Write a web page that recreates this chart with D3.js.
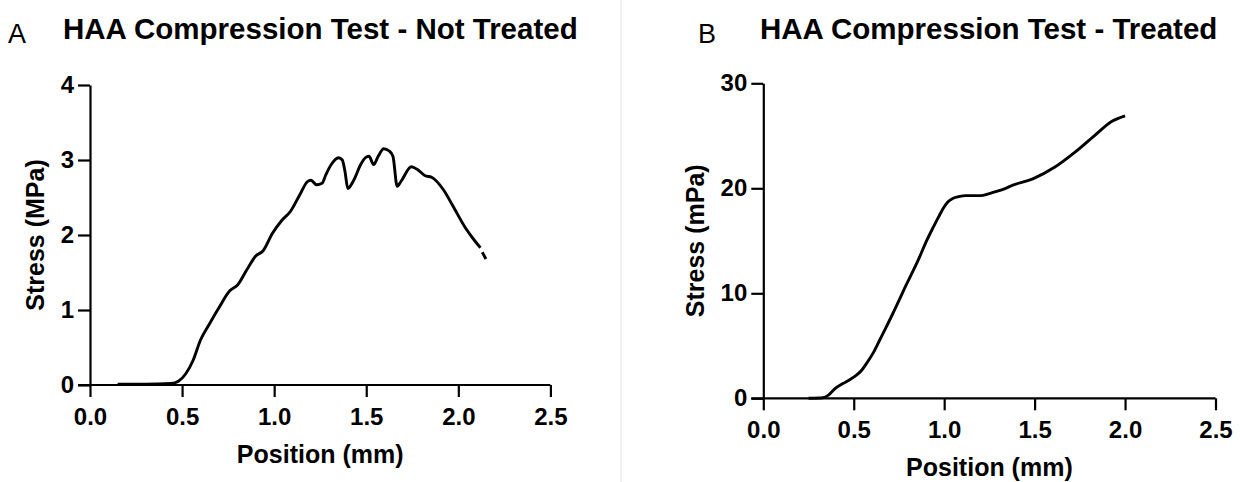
<!DOCTYPE html>
<html>
<head>
<meta charset="utf-8">
<script src="https://cdn.jsdelivr.net/npm/d3@7"></script>
<style>
  body { margin: 0; background: #ffffff; }
  svg text { font-family: "Liberation Sans", Arial, Helvetica, sans-serif; fill: #000; }
</style>
</head>
<body>
<div id="chart"></div>
<script>
// Panel A - not treated (position mm, stress MPa)
const untreatedPosition = [0.15, 0.30, 0.44, 0.48, 0.52, 0.56, 0.60, 0.65, 0.70, 0.76, 0.80, 0.85, 0.90, 0.94, 0.99, 1.04, 1.09, 1.14, 1.18, 1.20, 1.23, 1.26, 1.28, 1.31, 1.35, 1.37, 1.385, 1.40, 1.43, 1.47, 1.495, 1.515, 1.54, 1.565, 1.595, 1.625, 1.645, 1.668, 1.69, 1.745, 1.78, 1.82, 1.855, 1.92, 1.97, 2.04, 2.09, 2.12, null, 2.13, 2.15];
const untreatedStress = [0.01, 0.01, 0.02, 0.05, 0.15, 0.33, 0.60, 0.82, 1.03, 1.26, 1.33, 1.53, 1.72, 1.79, 2.02, 2.19, 2.32, 2.54, 2.71, 2.73, 2.67, 2.69, 2.80, 2.94, 3.03, 3.00, 2.84, 2.62, 2.72, 2.94, 3.03, 3.05, 2.94, 3.05, 3.15, 3.12, 3.05, 2.65, 2.72, 2.91, 2.87, 2.79, 2.77, 2.60, 2.39, 2.09, 1.92, 1.83, null, 1.77, 1.68];

// Panel B - treated (position mm, stress mPa)
const treatedPosition = [0.25, 0.33, 0.36, 0.395, 0.44, 0.48, 0.515, 0.545, 0.57, 0.61, 0.645, 0.68, 0.717, 0.755, 0.79, 0.83, 0.865, 0.90, 0.94, 0.97, 0.995, 1.02, 1.05, 1.08, 1.12, 1.20, 1.25, 1.29, 1.34, 1.38, 1.49, 1.61, 1.72, 1.83, 1.93, 2.0];
const treatedStress = [0, 0.05, 0.3, 0.9, 1.4, 1.8, 2.2, 2.7, 3.3, 4.4, 5.6, 6.8, 8.1, 9.5, 10.8, 12.2, 13.5, 14.9, 16.3, 17.3, 18.1, 18.7, 19.05, 19.2, 19.3, 19.3, 19.5, 19.7, 20.0, 20.3, 20.9, 22.0, 23.4, 25.0, 26.4, 26.9];

// Axis ticks
const positionTicks = [0, 0.5, 1.0, 1.5, 2.0, 2.5];
const untreatedStressTicks = [0, 1, 2, 3, 4];
const treatedStressTicks = [0, 10, 20, 30];

const svg_width = 1240;
const svg_height = 482;
const fontFamily = '"Liberation Sans", Arial, Helvetica, sans-serif';

const svg = d3
  .select("#chart")
  .append("svg")
  .attr("width", svg_width)
  .attr("height", svg_height);

// faint divider between the two panels
svg
  .append("line")
  .attr("x1", 621)
  .attr("x2", 621)
  .attr("y1", 0)
  .attr("y2", svg_height)
  .style("stroke", "#ececec")
  .style("stroke-width", 1.5);

function zip(xs, ys) {
  return xs.map(function(x, i) {
    return x === null ? null : [x, ys[i]];
  });
}

function styleAxis(sel) {
  sel.attr("font-family", fontFamily).attr("font-size", 24);
  sel.selectAll("text").style("font-weight", "bold").style("fill", "#000");
  sel.selectAll("line").style("stroke", "#000").style("stroke-width", 2.2);
  sel.selectAll(".domain").style("stroke", "#000").style("stroke-width", 2.2);
}

function drawPanel(opt) {
  var x = d3.scaleLinear().domain([0, 2.5]).range(opt.xRange);
  var y = d3.scaleLinear().domain(opt.yDomain).range(opt.yRange);

  var g = svg.append("g");

  // letter + title
  g.append("text")
    .attr("x", opt.letterX)
    .attr("y", 43)
    .style("font-size", "27px")
    .text(opt.letter);

  g.append("text")
    .attr("x", opt.titleX)
    .attr("y", 39)
    .style("font-size", "29.5px")
    .style("font-weight", "bold")
    .text(opt.title);

  // axes
  var xAxis = g
    .append("g")
    .attr("transform", "translate(0," + opt.yRange[0] + ")")
    .call(
      d3
        .axisBottom(x)
        .tickValues(positionTicks)
        .tickFormat(d3.format(".1f"))
        .tickSize(12)
        .tickSizeOuter(0)
        .tickPadding(11)
    );
  xAxis.select(".domain").attr("d", "M" + (opt.xRange[0] - 12) + ",0H" + opt.xRange[1]);
  styleAxis(xAxis);

  var yAxis = g
    .append("g")
    .attr("transform", "translate(" + opt.xRange[0] + ",0)")
    .call(
      d3
        .axisLeft(y)
        .tickValues(opt.yTicks)
        .tickFormat(d3.format("d"))
        .tickSize(12)
        .tickSizeOuter(0)
        .tickPadding(4)
    );
  styleAxis(yAxis);

  // axis labels
  g.append("text")
    .attr("x", (opt.xRange[0] + opt.xRange[1]) / 2)
    .attr("y", opt.xLabelY)
    .attr("text-anchor", "middle")
    .style("font-size", "25px")
    .style("font-weight", "bold")
    .text("Position (mm)");

  g.append("text")
    .attr(
      "transform",
      "translate(" + opt.yLabelX + "," + (opt.yRange[0] + opt.yRange[1]) / 2 + ") rotate(-90)"
    )
    .attr("text-anchor", "middle")
    .style("font-size", "25px")
    .style("font-weight", "bold")
    .text(opt.yLabel);

  // the curve
  var line = d3
    .line()
    .defined(function(d) {
      return d !== null;
    })
    .x(function(d) {
      return x(d[0]);
    })
    .y(function(d) {
      return y(d[1]);
    })
    .curve(d3.curveMonotoneX);

  g.append("path")
    .datum(zip(opt.xs, opt.ys))
    .attr("d", line)
    .style("fill", "none")
    .style("stroke", "#000")
    .style("stroke-width", 2.9)
    .style("stroke-linejoin", "round");
}

drawPanel({
  letter: "A",
  letterX: 8,
  title: "HAA Compression Test - Not Treated",
  titleX: 63,
  xRange: [90, 550.4],
  yRange: [385, 85],
  yDomain: [0, 4],
  yTicks: untreatedStressTicks,
  yLabel: "Stress (MPa)",
  yLabelX: 44,
  xLabelY: 463,
  xs: untreatedPosition,
  ys: untreatedStress
});

drawPanel({
  letter: "B",
  letterX: 698,
  title: "HAA Compression Test - Treated",
  titleX: 760,
  xRange: [763.3, 1215.5],
  yRange: [398.3, 83.3],
  yDomain: [0, 30],
  yTicks: treatedStressTicks,
  yLabel: "Stress (mPa)",
  yLabelX: 704,
  xLabelY: 476,
  xs: treatedPosition,
  ys: treatedStress
});
</script>
</body>
</html>
